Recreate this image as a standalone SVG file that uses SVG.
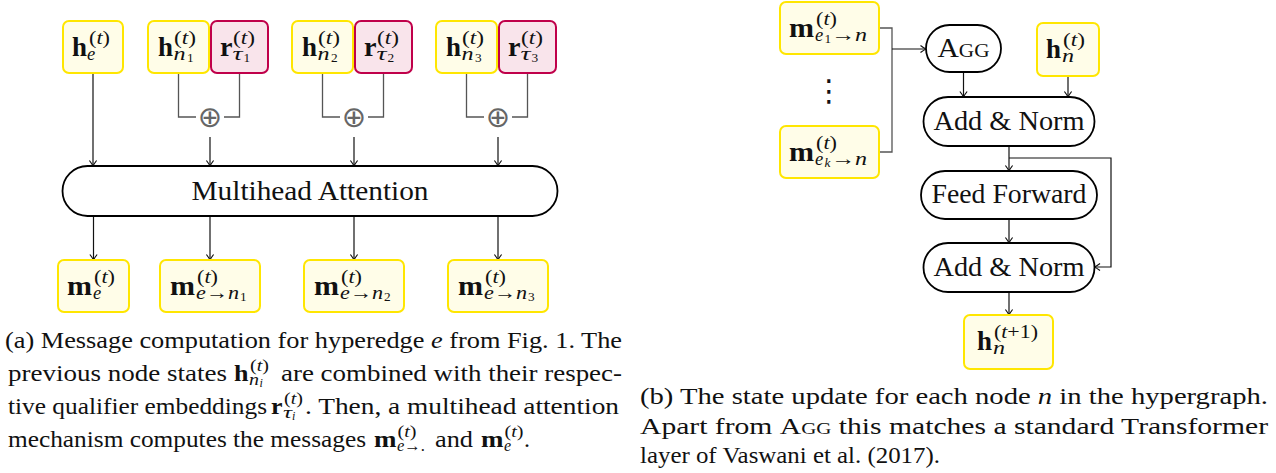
<svg xmlns="http://www.w3.org/2000/svg" width="1276" height="473" viewBox="0 0 1276 473">
<defs>
<style>
svg text, svg tspan{font-family:'Liberation Serif',serif;fill:#111}
svg text.op, svg text.vd{font-family:'DejaVu Sans',sans-serif}
.y rect{fill:#FFFDE8;stroke:#FFE600;stroke-width:2}
.r rect{fill:#F9E4EB;stroke:#C0004A;stroke-width:2}
.k rect{fill:#fff;stroke:#000;stroke-width:1.8}
.bf{font-weight:bold;font-size:26.5px}
.sb{font-style:italic;font-size:18.5px}
.sp{font-size:18.5px}
.ss{font-size:13.3px}
.lbl{font-size:26.5px;text-anchor:middle}
.cap{font-size:24px}
.cb{font-weight:bold;font-size:24px}
.cs{font-size:16px}
.css{font-size:12px}
.it{font-style:italic}
.ar{fill:none;stroke:#111;stroke-width:1.2;marker-end:url(#ah)}
.gl{fill:none;stroke:#555;stroke-width:1.3}
svg text.op{font-size:29px;fill:#666;text-anchor:middle}
svg text.vd{font-size:30px;text-anchor:middle}
</style>
<marker id="ah" viewBox="-8 -5 10 10" refX="0" refY="0" markerWidth="10" markerHeight="10" markerUnits="userSpaceOnUse" orient="auto">
<path d="M-5.5,-3.6 Q-2,-0.9 0,0 Q-2,0.9 -5.5,3.6" fill="none" stroke="#111" stroke-width="1.2"/>
</marker>
</defs>

<g id="connectors">
<path class="ar" d="M93,73V166"/>
<path class="gl" d="M178.5,73V117H196M239.5,73V117H224"/>
<path class="gl" d="M322.5,73V117H340M383.5,73V117H368"/>
<path class="gl" d="M466.5,73V117H484M527.5,73V117H512"/>
<path class="ar" d="M210,137V166"/>
<path class="ar" d="M354,137V166"/>
<path class="ar" d="M498,137V166"/>
<path class="ar" d="M93.5,216V260"/>
<path class="ar" d="M210,216V260"/>
<path class="ar" d="M354,216V260"/>
<path class="ar" d="M498,216V260"/>
<path class="gl" d="M879,28H892V152H879"/>
<path class="ar" d="M892,49H926"/>
<path class="ar" d="M963.5,72V97"/>
<path class="ar" d="M1068,76V97"/>
<path class="ar" d="M1009,146V171"/>
<path class="ar" d="M1009,158H1111V267H1094.5"/>
<path class="ar" d="M1009,219V243"/>
<path class="ar" d="M1009,292V315"/>
<text class="op" x="210" y="126.5" font-family="DejaVu Sans">⊕</text>
<text class="op" x="354" y="126.5" font-family="DejaVu Sans">⊕</text>
<text class="op" x="498" y="126.5" font-family="DejaVu Sans">⊕</text>
</g>

<g id="h_e" class="y"><rect x="63" y="21" width="60" height="52" rx="6"/>
<text font-family="Liberation Serif" class="bf" x="72" y="55.5" textLength="15" lengthAdjust="spacingAndGlyphs">h</text>
<text font-family="Liberation Serif" class="sb" x="87" y="59.5">e</text>
<text font-family="Liberation Serif" class="sp" x="89" y="43.5" textLength="21" lengthAdjust="spacingAndGlyphs">(<tspan class="it">t</tspan>)</text></g>

<g id="h_n1" class="y"><rect x="148" y="21" width="61" height="52" rx="6"/>
<text font-family="Liberation Serif" class="bf" x="158" y="55.5" textLength="15" lengthAdjust="spacingAndGlyphs">h</text>
<text font-family="Liberation Serif" class="sb" x="173.5" y="59.5" textLength="12" lengthAdjust="spacingAndGlyphs">n</text>
<text font-family="Liberation Serif" class="ss" x="187" y="61.5">1</text>
<text font-family="Liberation Serif" class="sp" x="174" y="43.5" textLength="22" lengthAdjust="spacingAndGlyphs">(<tspan class="it">t</tspan>)</text></g>
<g id="r_t1" class="r"><rect x="211" y="21" width="57" height="52" rx="6"/>
<text font-family="Liberation Serif" class="bf" x="220" y="55.5" textLength="12.5" lengthAdjust="spacingAndGlyphs">r</text>
<text font-family="Liberation Serif" class="sb" x="232.5" y="59.5" textLength="10" lengthAdjust="spacingAndGlyphs">τ</text>
<text font-family="Liberation Serif" class="ss" x="243.5" y="61.5">1</text>
<text font-family="Liberation Serif" class="sp" x="233" y="43.5" textLength="22" lengthAdjust="spacingAndGlyphs">(<tspan class="it">t</tspan>)</text></g>

<g id="h_n2" class="y"><rect x="292" y="21" width="61" height="52" rx="6"/>
<text font-family="Liberation Serif" class="bf" x="302" y="55.5" textLength="15" lengthAdjust="spacingAndGlyphs">h</text>
<text font-family="Liberation Serif" class="sb" x="317.5" y="59.5" textLength="12" lengthAdjust="spacingAndGlyphs">n</text>
<text font-family="Liberation Serif" class="ss" x="331" y="61.5">2</text>
<text font-family="Liberation Serif" class="sp" x="318" y="43.5" textLength="22" lengthAdjust="spacingAndGlyphs">(<tspan class="it">t</tspan>)</text></g>
<g id="r_t2" class="r"><rect x="355" y="21" width="57" height="52" rx="6"/>
<text font-family="Liberation Serif" class="bf" x="364" y="55.5" textLength="12.5" lengthAdjust="spacingAndGlyphs">r</text>
<text font-family="Liberation Serif" class="sb" x="376.5" y="59.5" textLength="10" lengthAdjust="spacingAndGlyphs">τ</text>
<text font-family="Liberation Serif" class="ss" x="387.5" y="61.5">2</text>
<text font-family="Liberation Serif" class="sp" x="377" y="43.5" textLength="22" lengthAdjust="spacingAndGlyphs">(<tspan class="it">t</tspan>)</text></g>

<g id="h_n3" class="y"><rect x="436" y="21" width="61" height="52" rx="6"/>
<text font-family="Liberation Serif" class="bf" x="446" y="55.5" textLength="15" lengthAdjust="spacingAndGlyphs">h</text>
<text font-family="Liberation Serif" class="sb" x="461.5" y="59.5" textLength="12" lengthAdjust="spacingAndGlyphs">n</text>
<text font-family="Liberation Serif" class="ss" x="475" y="61.5">3</text>
<text font-family="Liberation Serif" class="sp" x="462" y="43.5" textLength="22" lengthAdjust="spacingAndGlyphs">(<tspan class="it">t</tspan>)</text></g>
<g id="r_t3" class="r"><rect x="499" y="21" width="57" height="52" rx="6"/>
<text font-family="Liberation Serif" class="bf" x="508" y="55.5" textLength="12.5" lengthAdjust="spacingAndGlyphs">r</text>
<text font-family="Liberation Serif" class="sb" x="520.5" y="59.5" textLength="10" lengthAdjust="spacingAndGlyphs">τ</text>
<text font-family="Liberation Serif" class="ss" x="531.5" y="61.5">3</text>
<text font-family="Liberation Serif" class="sp" x="521" y="43.5" textLength="22" lengthAdjust="spacingAndGlyphs">(<tspan class="it">t</tspan>)</text></g>

<g id="mha" class="k"><rect x="62.5" y="166" width="495" height="50" rx="25"/>
<text font-family="Liberation Serif" class="lbl" x="310" y="199.5" textLength="237" lengthAdjust="spacingAndGlyphs">Multihead Attention</text></g>

<g id="m_e" class="y"><rect x="58" y="260" width="71" height="52" rx="6"/>
<text font-family="Liberation Serif" class="bf" x="67" y="294.5" textLength="25" lengthAdjust="spacingAndGlyphs">m</text>
<text font-family="Liberation Serif" class="sb" x="93" y="298.5">e</text>
<text font-family="Liberation Serif" class="sp" x="94" y="282.5" textLength="21" lengthAdjust="spacingAndGlyphs">(<tspan class="it">t</tspan>)</text></g>

<g id="m_en1" class="y"><rect x="160" y="260" width="100" height="52" rx="6"/>
<text font-family="Liberation Serif" class="bf" x="170" y="294.5" textLength="25" lengthAdjust="spacingAndGlyphs">m</text>
<text font-family="Liberation Serif" class="sb" x="196" y="298.5" textLength="43" lengthAdjust="spacingAndGlyphs">e<tspan font-style="normal">→</tspan>n</text>
<text font-family="Liberation Serif" class="ss" x="240" y="300.5">1</text>
<text font-family="Liberation Serif" class="sp" x="197" y="282.5" textLength="21" lengthAdjust="spacingAndGlyphs">(<tspan class="it">t</tspan>)</text></g>

<g id="m_en2" class="y"><rect x="304" y="260" width="100" height="52" rx="6"/>
<text font-family="Liberation Serif" class="bf" x="314" y="294.5" textLength="25" lengthAdjust="spacingAndGlyphs">m</text>
<text font-family="Liberation Serif" class="sb" x="340" y="298.5" textLength="43" lengthAdjust="spacingAndGlyphs">e<tspan font-style="normal">→</tspan>n</text>
<text font-family="Liberation Serif" class="ss" x="384" y="300.5">2</text>
<text font-family="Liberation Serif" class="sp" x="341" y="282.5" textLength="21" lengthAdjust="spacingAndGlyphs">(<tspan class="it">t</tspan>)</text></g>

<g id="m_en3" class="y"><rect x="448" y="260" width="100" height="52" rx="6"/>
<text font-family="Liberation Serif" class="bf" x="458" y="294.5" textLength="25" lengthAdjust="spacingAndGlyphs">m</text>
<text font-family="Liberation Serif" class="sb" x="484" y="298.5" textLength="43" lengthAdjust="spacingAndGlyphs">e<tspan font-style="normal">→</tspan>n</text>
<text font-family="Liberation Serif" class="ss" x="528" y="300.5">3</text>
<text font-family="Liberation Serif" class="sp" x="485" y="282.5" textLength="21" lengthAdjust="spacingAndGlyphs">(<tspan class="it">t</tspan>)</text></g>

<g id="caption_a">
<text font-family="Liberation Serif" class="cap" x="5" y="348" textLength="617" lengthAdjust="spacingAndGlyphs">(a) Message computation for hyperedge <tspan class="it">e</tspan> from Fig. 1. The</text>
<text font-family="Liberation Serif" class="cap" x="8" y="381" textLength="219" lengthAdjust="spacingAndGlyphs">previous node states</text>
<text font-family="Liberation Serif" class="cb" x="234" y="381" textLength="14.5" lengthAdjust="spacingAndGlyphs">h</text>
<text font-family="Liberation Serif" class="cs it" x="249" y="384.5" textLength="10" lengthAdjust="spacingAndGlyphs">n</text>
<text font-family="Liberation Serif" class="css it" x="259.5" y="387">i</text>
<text font-family="Liberation Serif" class="cs" x="250" y="370.5" textLength="19" lengthAdjust="spacingAndGlyphs">(<tspan class="it">t</tspan>)</text>
<text font-family="Liberation Serif" class="cap" x="281" y="381" textLength="341" lengthAdjust="spacingAndGlyphs">are combined with their respec-</text>
<text font-family="Liberation Serif" class="cap" x="8" y="414" textLength="259" lengthAdjust="spacingAndGlyphs">tive qualifier embeddings</text>
<text font-family="Liberation Serif" class="cb" x="271" y="414" textLength="11.5" lengthAdjust="spacingAndGlyphs">r</text>
<text font-family="Liberation Serif" class="cs it" x="283" y="417.5" textLength="9" lengthAdjust="spacingAndGlyphs">τ</text>
<text font-family="Liberation Serif" class="css it" x="292" y="420">i</text>
<text font-family="Liberation Serif" class="cs" x="284" y="403.5" textLength="19" lengthAdjust="spacingAndGlyphs">(<tspan class="it">t</tspan>)</text>
<text font-family="Liberation Serif" class="cap" x="305" y="414" textLength="314" lengthAdjust="spacingAndGlyphs">. Then, a multihead attention</text>
<text font-family="Liberation Serif" class="cap" x="8" y="447" textLength="358" lengthAdjust="spacingAndGlyphs">mechanism computes the messages</text>
<text font-family="Liberation Serif" class="cb" x="374" y="447" textLength="22.5" lengthAdjust="spacingAndGlyphs">m</text>
<text font-family="Liberation Serif" class="cs it" x="397" y="450.5" textLength="28" lengthAdjust="spacingAndGlyphs">e<tspan font-style="normal">→.</tspan></text>
<text font-family="Liberation Serif" class="cs" x="397.5" y="436.5" textLength="19" lengthAdjust="spacingAndGlyphs">(<tspan class="it">t</tspan>)</text>
<text font-family="Liberation Serif" class="cap" x="435" y="447" textLength="38" lengthAdjust="spacingAndGlyphs">and</text>
<text font-family="Liberation Serif" class="cb" x="481" y="447" textLength="22.5" lengthAdjust="spacingAndGlyphs">m</text>
<text font-family="Liberation Serif" class="cs it" x="504" y="450.5">e</text>
<text font-family="Liberation Serif" class="cs" x="504.5" y="436.5" textLength="19" lengthAdjust="spacingAndGlyphs">(<tspan class="it">t</tspan>)</text>
<text font-family="Liberation Serif" class="cap" x="524" y="447">.</text>
</g>

<g id="m_e1n" class="y"><rect x="780" y="2" width="99" height="52" rx="6"/>
<text font-family="Liberation Serif" class="bf" x="789" y="36.5" textLength="25" lengthAdjust="spacingAndGlyphs">m</text>
<text font-family="Liberation Serif" class="sb" x="815" y="40.5">e</text>
<text font-family="Liberation Serif" class="ss" x="824.5" y="42.5">1</text>
<text font-family="Liberation Serif" class="sb" x="831" y="40.5" textLength="36" lengthAdjust="spacingAndGlyphs"><tspan font-style="normal">→</tspan>n</text>
<text font-family="Liberation Serif" class="sp" x="816" y="24.5" textLength="21" lengthAdjust="spacingAndGlyphs">(<tspan class="it">t</tspan>)</text></g>

<g id="vdots"><text class="vd" x="829" y="101" font-family="DejaVu Sans">⋮</text></g>

<g id="m_ekn" class="y"><rect x="780" y="126" width="99" height="52" rx="6"/>
<text font-family="Liberation Serif" class="bf" x="789" y="160.5" textLength="25" lengthAdjust="spacingAndGlyphs">m</text>
<text font-family="Liberation Serif" class="sb" x="815" y="164.5">e</text>
<text font-family="Liberation Serif" class="ss it" x="824.5" y="166.5">k</text>
<text font-family="Liberation Serif" class="sb" x="831" y="164.5" textLength="36" lengthAdjust="spacingAndGlyphs"><tspan font-style="normal">→</tspan>n</text>
<text font-family="Liberation Serif" class="sp" x="816" y="148.5" textLength="21" lengthAdjust="spacingAndGlyphs">(<tspan class="it">t</tspan>)</text></g>

<g id="agg" class="k"><rect x="926" y="25" width="75" height="47" rx="23.5"/>
<text font-family="Liberation Serif" class="lbl" x="963.5" y="57" textLength="52" lengthAdjust="spacingAndGlyphs" style="font-variant:small-caps">Agg</text></g>

<g id="h_n" class="y"><rect x="1037" y="23" width="62" height="53" rx="6"/>
<text font-family="Liberation Serif" class="bf" x="1046" y="57.5" textLength="15" lengthAdjust="spacingAndGlyphs">h</text>
<text font-family="Liberation Serif" class="sb" x="1062" y="61.5" textLength="12" lengthAdjust="spacingAndGlyphs">n</text>
<text font-family="Liberation Serif" class="sp" x="1063" y="45.5" textLength="22" lengthAdjust="spacingAndGlyphs">(<tspan class="it">t</tspan>)</text></g>

<g id="addnorm1" class="k"><rect x="923.5" y="97" width="171" height="49" rx="24.5"/>
<text font-family="Liberation Serif" class="lbl" x="1009" y="130" textLength="151" lengthAdjust="spacingAndGlyphs">Add &amp; Norm</text></g>

<g id="ffn" class="k"><rect x="921" y="171" width="176" height="48" rx="24"/>
<text font-family="Liberation Serif" class="lbl" x="1009" y="203" textLength="155" lengthAdjust="spacingAndGlyphs">Feed Forward</text></g>

<g id="addnorm2" class="k"><rect x="923.5" y="243" width="171" height="49" rx="24.5"/>
<text font-family="Liberation Serif" class="lbl" x="1009" y="275.5" textLength="151" lengthAdjust="spacingAndGlyphs">Add &amp; Norm</text></g>

<g id="h_next" class="y"><rect x="964" y="315" width="89" height="54" rx="6"/>
<text font-family="Liberation Serif" class="bf" x="977" y="349.5" textLength="15" lengthAdjust="spacingAndGlyphs">h</text>
<text font-family="Liberation Serif" class="sb" x="993" y="353.5" textLength="12" lengthAdjust="spacingAndGlyphs">n</text>
<text font-family="Liberation Serif" class="sp" x="994" y="337.5" textLength="44" lengthAdjust="spacingAndGlyphs">(<tspan class="it">t</tspan>+1)</text></g>

<g id="caption_b">
<text font-family="Liberation Serif" class="cap" x="640" y="404" textLength="628" lengthAdjust="spacingAndGlyphs">(b) The state update for each node <tspan class="it">n</tspan> in the hypergraph.</text>
<text font-family="Liberation Serif" class="cap" x="640" y="434" textLength="628" lengthAdjust="spacingAndGlyphs">Apart from <tspan style="font-variant:small-caps">Agg</tspan> this matches a standard Transformer</text>
<text font-family="Liberation Serif" class="cap" x="640" y="463" textLength="300" lengthAdjust="spacingAndGlyphs">layer of Vaswani et al. (2017).</text>
</g>
</svg>
